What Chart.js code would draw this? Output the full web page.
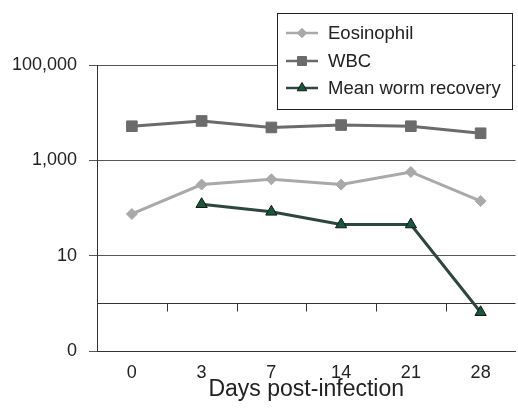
<!DOCTYPE html>
<html>
<head>
<meta charset="utf-8">
<script src="https://cdn.jsdelivr.net/npm/chart.js@4.4.1/dist/chart.umd.min.js"></script>
<style>
  html, body { margin: 0; padding: 0; background: #fff; overflow: hidden; }
  #wrap { width: 524px; height: 419px; }
</style>
</head>
<body>
<div id="wrap"><canvas id="chart" width="524" height="419"></canvas></div>
<script>
// data
const days = ["0", "3", "7", "14", "21", "28"];
const eosinophil = [75, 310, 400, 310, 570, 140];
const wbc = [5200, 6700, 4900, 5500, 5200, 3700];
const wormRecovery = [null, 120, 83, 45, 45, 0.65];
const yTicks = [0.1, 10, 1000, 100000];

const FONT = "'Liberation Sans', Arial, sans-serif";
const TEXT = "#222";

const series = [
  { label: "Eosinophil", data: eosinophil, color: "#a9a9a9", fill: "#a9a9a9", border: "#a9a9a9", style: "rectRot", r: 5.5 },
  { label: "WBC", data: wbc, color: "#6b6b6b", fill: "#6b6b6b", border: "#6b6b6b", style: "rect", r: 7.5 },
  { label: "Mean worm recovery", data: wormRecovery, color: "#2e4640", fill: "#17583a", border: "#161616", style: "triangle", r: 6.5 }
];

// axis at y = 1 with tick marks between categories
const crossAxis = {
  id: "crossAxis",
  beforeDatasetsDraw(chart) {
    const { ctx, chartArea: a, scales: { x, y } } = chart;
    const yy = Math.round(y.getPixelForValue(1)) + 0.5;
    ctx.save();
    ctx.strokeStyle = "#333";
    ctx.lineWidth = 1;
    ctx.beginPath();
    ctx.moveTo(a.left, yy);
    ctx.lineTo(a.right, yy);
    for (let i = 1; i < days.length; i++) {
      const xx = Math.round((x.getPixelForTick(i - 1) + x.getPixelForTick(i)) / 2) + 0.5;
      ctx.moveTo(xx, yy);
      ctx.lineTo(xx, yy + 8);
    }
    ctx.stroke();
    ctx.restore();
  }
};

// boxed legend, top right
const boxLegend = {
  id: "boxLegend",
  afterDraw(chart) {
    const { ctx } = chart;
    ctx.save();
    ctx.fillStyle = "#fff";
    ctx.fillRect(277, 13, 235, 96);
    ctx.strokeStyle = "#222";
    ctx.lineWidth = 1;
    ctx.strokeRect(277.5, 13.5, 235, 96);
    const rows = [33, 61, 88];
    series.forEach((s, i) => {
      const yy = rows[i];
      ctx.strokeStyle = s.color;
      ctx.lineWidth = 2.5;
      ctx.beginPath();
      ctx.moveTo(286, yy);
      ctx.lineTo(318, yy);
      ctx.stroke();
      ctx.fillStyle = s.fill;
      ctx.strokeStyle = s.border;
      ctx.lineWidth = 1;
      Chart.helpers.drawPoint(ctx, { pointStyle: s.style, radius: s.r * 0.85, rotation: 0, borderWidth: 1 }, 302, yy);
      ctx.fillStyle = TEXT;
      ctx.font = "18.5px " + FONT;
      ctx.textBaseline = "middle";
      ctx.textAlign = "left";
      ctx.fillText(s.label, 328, yy + 1);
    });
    ctx.restore();
  }
};

new Chart(document.getElementById("chart"), {
  type: "line",
  data: {
    labels: days,
    datasets: series.map(s => ({
      label: s.label,
      data: s.data,
      borderColor: s.color,
      borderWidth: 3,
      pointStyle: s.style,
      pointRadius: s.r,
      pointBackgroundColor: s.fill,
      pointBorderColor: s.border,
      pointBorderWidth: 1,
      tension: 0,
      spanGaps: false
    }))
  },
  options: {
    responsive: false,
    animation: false,
    layout: { padding: { left: 0, top: 65, right: 5, bottom: 0 } },
    plugins: { legend: { display: false }, tooltip: { enabled: false } },
    scales: {
      x: {
        type: "category",
        offset: true,
        grid: { display: false, drawTicks: false },
        border: { display: true, color: "#333", width: 1 },
        ticks: { color: TEXT, font: { family: FONT, size: 18 }, padding: 11 },
        title: { display: true, text: "Days post-infection", color: TEXT, font: { family: FONT, size: 23 }, padding: { top: 0, bottom: 16 } },
        afterFit: s => { s.height = 68; }
      },
      y: {
        type: "logarithmic",
        min: 0.1,
        max: 100000,
        afterBuildTicks: s => { s.ticks = yTicks.map(v => ({ value: v })); },
        grid: { color: "#555", lineWidth: 1, drawTicks: true, tickLength: 8 },
        border: { display: true, color: "#333", width: 1 },
        ticks: {
          color: TEXT,
          font: { family: FONT, size: 18 },
          padding: 12,
          autoSkip: false,
          callback: v => v < 1 ? "0" : Number(v).toLocaleString("en-US")
        },
        afterFit: s => { s.width = 97; }
      }
    }
  },
  plugins: [crossAxis, boxLegend]
});
</script>
</body>
</html>
